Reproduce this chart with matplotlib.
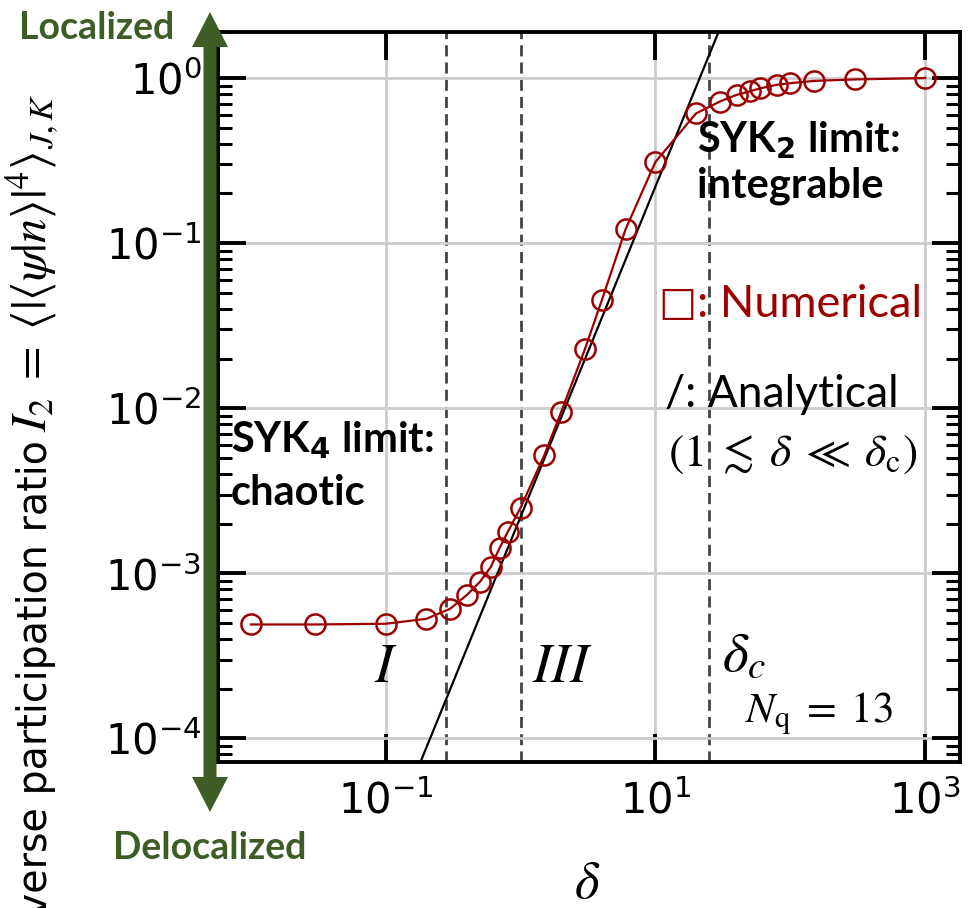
import numpy as np
import matplotlib
matplotlib.use("Agg")
from matplotlib import pyplot as plt
from matplotlib.patches import FancyArrow
from matplotlib.ticker import FixedLocator, NullLocator, LogLocator, NullFormatter

# numerical data
delta = [0.01, 0.03, 0.1, 0.2, 0.3, 0.4, 0.5, 0.6, 0.7, 0.8, 1.0, 1.5,
         2.0, 3.0, 4.0, 6.0, 10.0, 20.0, 30.0, 40.0, 50.0, 60.0, 80.0,
         100.0, 150.0, 300.0, 1000.0]
ipr = [4.9e-4, 4.9e-4, 4.95e-4, 5.3e-4, 6.1e-4, 7.4e-4, 8.9e-4, 1.09e-3,
       1.43e-3, 1.77e-3, 2.5e-3, 5.2e-3, 9.5e-3, 2.28e-2, 4.5e-2, 0.121,
       0.31, 0.61, 0.72, 0.79, 0.83, 0.866, 0.91, 0.93, 0.96, 0.98, 1.0]

# analytical power law I2 = A * delta^p
analytic_prefactor = 2.2e-3
analytic_power = 2.0
analytic_delta = np.array([0.1, 100.0])

# region boundaries
region_bounds = [0.28, 1.0, 25.0]

x_ticks = [1e-1, 1e1, 1e3]
y_ticks = [1e-4, 1e-3, 1e-2, 1e-1, 1e0]

red = "#9b0000"
green = "#3d5c26"
ann_font = ["Lato", "DejaVu Sans"]

W, H = 973, 908
fig = plt.figure(figsize=(W / 100, H / 100), dpi=100)
ax = fig.add_axes([0.2241, 0.1608, 0.7626, 0.8040])

ax.set_xscale("log")
ax.set_yscale("log")
ax.set_xlim(0.0057, 1818)
ax.set_ylim(7.2e-5, 1.9)

ax.grid(which="major", color="#cccccc", lw=2, zorder=0)

for xb in region_bounds:
    ax.axvline(xb, color="#444444", lw=2, ls=(0, (4, 2.2)), zorder=1)

ax.plot(analytic_delta, analytic_prefactor * analytic_delta ** analytic_power,
        color="black", lw=1.6, zorder=2)

ax.plot(delta, ipr, "-o", color=red, lw=1.6, ms=14.5, mfc="none",
        mew=1.8, zorder=3)

# ticks
ax.xaxis.set_major_locator(FixedLocator(x_ticks))
ax.xaxis.set_minor_locator(NullLocator())
ax.yaxis.set_major_locator(FixedLocator(y_ticks))
ax.yaxis.set_minor_locator(LogLocator(base=10, subs=np.arange(2, 10), numticks=20))
ax.yaxis.set_minor_formatter(NullFormatter())

ax.tick_params(which="major", direction="in", length=20, width=2.8,
               top=True, right=True, labelsize=30)
ax.tick_params(which="minor", direction="in", length=10, width=2.2,
               left=True, right=True)
ax.tick_params(axis="y", pad=12)
ax.tick_params(axis="x", pad=13)
for sp in ax.spines.values():
    sp.set_linewidth(2.8)

ax.set_xlabel(r"$\delta$", fontsize=38, math_fontfamily="stix")
ax.xaxis.set_label_coords(0.497, -0.13)

# y label: plain text part + math part (anchored on a common baseline)
label_x = 47 / W
fig.text(label_x, 1 - 440 / H, "Inverse participation ratio",
         rotation=90, rotation_mode="anchor", ha="right", va="baseline",
         fontsize=28.5)
fig.text(label_x, 1 - 432 / H,
         r"$I_2\;=\;\langle|\langle\psi|n\rangle|^4\rangle_{J,K}$",
         rotation=90, rotation_mode="anchor", ha="left", va="baseline",
         fontsize=35, math_fontfamily="stix")

# region labels
ax.text(0.1, 2.7e-4, r"$I$", fontsize=40, ha="center", va="center",
        math_fontfamily="stix")
ax.text(2.05, 2.7e-4, r"$III$", fontsize=40, ha="center", va="center",
        math_fontfamily="stix")
ax.text(31, 3.2e-4, r"$\delta_c$", fontsize=40, ha="left", va="center",
        math_fontfamily="stix")
ax.text(46, 1.4e-4, r"$N_{\rm q}\;=\;13$", fontsize=31, ha="left",
        va="center", math_fontfamily="stix")

# annotations
ax.text(0.0071, 2.58e-3, "SYK$_\\mathbf{4}$ limit:\nchaotic", fontsize=30,
        fontweight="bold", family=ann_font, ha="left", va="baseline",
        linespacing=1.42)
ax.text(20.5, 0.19, "SYK$_\\mathbf{2}$ limit:\nintegrable", fontsize=30,
        fontweight="bold", family=ann_font, ha="left", va="baseline",
        linespacing=1.17)
ax.text(10.6, 0.0425, "\u25a1", fontsize=29, color=red,
        family="DejaVu Sans", ha="left", va="center")
ax.text(20.5, 0.0356, ": Numerical", fontsize=32.5, color=red,
        family=ann_font, ha="left", va="baseline")
ax.text(11.8, 0.0101, "/: Analytical", fontsize=32, family=ann_font,
        ha="left", va="baseline")
ax.text(12.3, 4.5e-3, r"$(1\;\lesssim\;\delta\;\ll\;\delta_{\rm c})$",
        fontsize=33, ha="left", va="baseline", math_fontfamily="stix")

# localized / delocalized double arrow (two filled arrows from the middle)
mid = 412
for tip in (12, 812):
    fig.patches.append(FancyArrow(
        210 / W, 1 - mid / H, 0, (mid - tip) / H,
        width=13 / W, head_width=36 / W, head_length=35 / H,
        length_includes_head=True, color=green, lw=0,
        transform=fig.transFigure, zorder=5))

fig.text(97 / W, 1 - 28 / H, "Localized", fontsize=27, fontweight="bold",
         color=green, family=ann_font, ha="center", va="center")
fig.text(210 / W, 1 - 848 / H, "Delocalized", fontsize=27,
         fontweight="bold", color=green, family=ann_font, ha="center",
         va="center")

fig.savefig("out.png", dpi=100)
plt.close("all")
